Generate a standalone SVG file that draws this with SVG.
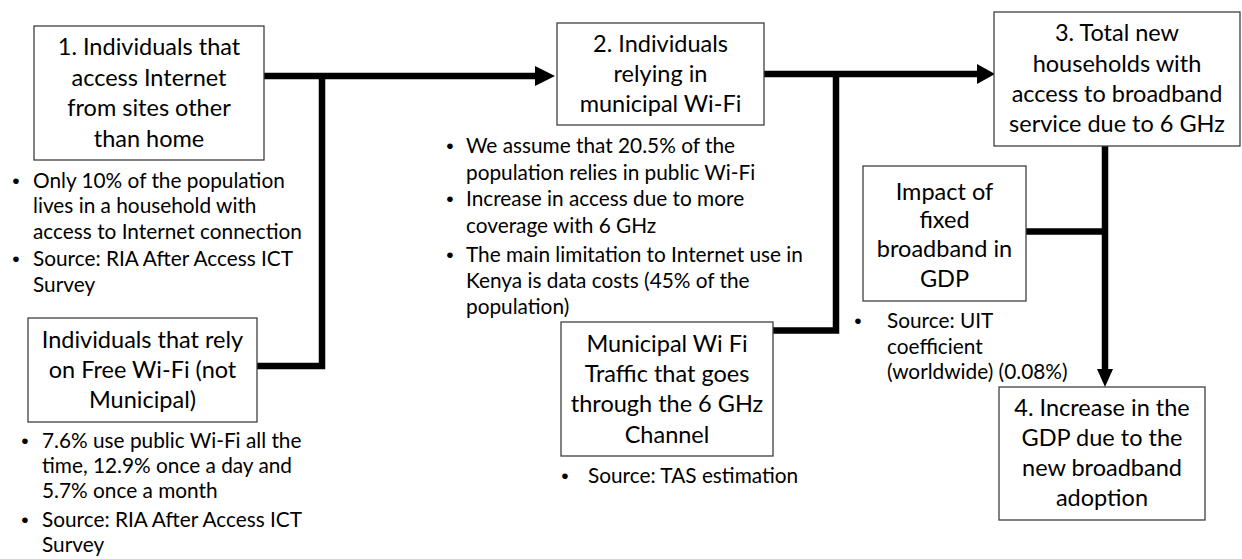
<svg xmlns="http://www.w3.org/2000/svg" width="1242" height="559" viewBox="0 0 1242 559">
<style>
  .box { fill: #ffffff; stroke: #404040; stroke-width: 1.3; }
  .bt { font-family: Lato, "Open Sans", sans-serif; font-size: 23.5px; fill: #000; text-anchor: middle; }
  .nt { font-family: Lato, "Open Sans", sans-serif; font-size: 20.8px; fill: #000; }
  .bu { font-family: "Liberation Sans", Arial, sans-serif; font-size: 21px; fill: #000; text-anchor: middle; }
  .conn { fill: none; stroke: #000; stroke-width: 6.5; stroke-linejoin: miter; stroke-linecap: butt; }
  .head { fill: #000; stroke: none; }
</style>
<rect width="1242" height="559" fill="#ffffff"/>

<g id="connectors">
  <path class="conn" d="M264,76 H536"/>
  <polygon class="head" points="535,66 555,76 535,86"/>
  <path class="conn" d="M322,76 V366 H257"/>
  <path class="conn" d="M764,74 H978"/>
  <polygon class="head" points="977,64 995,74 977,84"/>
  <path class="conn" d="M836,74 V330.5 H773"/>
  <path class="conn" d="M1105,146 V370"/>
  <polygon class="head" points="1097,369 1113,369 1105,387"/>
  <path class="conn" d="M1026,231.5 H1105"/>
</g>

<g id="node1">
  <rect class="box" x="34" y="26" width="230" height="134"/>
  <text class="bt" x="149" y="55">1. Individuals that</text>
  <text class="bt" x="149" y="86">access Internet</text>
  <text class="bt" x="149" y="116">from sites other</text>
  <text class="bt" x="149" y="147">than home</text>
</g>
<g id="note1">
  <text class="bu" x="16" y="188">•</text>
  <text class="nt" x="33" y="188">Only 10% of the population</text>
  <text class="nt" x="33" y="213">lives in a household with</text>
  <text class="nt" x="33" y="239">access to Internet connection</text>
  <text class="bu" x="16" y="266">•</text>
  <text class="nt" x="33" y="266">Source: RIA After Access ICT</text>
  <text class="nt" x="33" y="292">Survey</text>
</g>

<g id="node-free-wifi">
  <rect class="box" x="28" y="318" width="229" height="104"/>
  <text class="bt" x="142.5" y="348">Individuals that rely</text>
  <text class="bt" x="142.5" y="378">on Free Wi-Fi (not</text>
  <text class="bt" x="142.5" y="408">Municipal)</text>
</g>
<g id="note-free-wifi">
  <text class="bu" x="25" y="448">•</text>
  <text class="nt" x="42" y="448">7.6% use public Wi-Fi all the</text>
  <text class="nt" x="42" y="473">time, 12.9% once a day and</text>
  <text class="nt" x="42" y="498">5.7% once a month</text>
  <text class="bu" x="25" y="527">•</text>
  <text class="nt" x="42" y="527">Source: RIA After Access ICT</text>
  <text class="nt" x="42" y="552">Survey</text>
</g>

<g id="node2">
  <rect class="box" x="557" y="23" width="207" height="102"/>
  <text class="bt" x="660.5" y="52">2. Individuals</text>
  <text class="bt" x="660.5" y="82">relying in</text>
  <text class="bt" x="660.5" y="112">municipal Wi-Fi</text>
</g>
<g id="note2">
  <text class="bu" x="450" y="153">•</text>
  <text class="nt" x="466" y="153">We assume that 20.5% of the</text>
  <text class="nt" x="466" y="180">population relies in public Wi-Fi</text>
  <text class="bu" x="450" y="206">•</text>
  <text class="nt" x="466" y="206">Increase in access due to more</text>
  <text class="nt" x="466" y="233">coverage with 6 GHz</text>
  <text class="bu" x="450" y="262">•</text>
  <text class="nt" x="466" y="262">The main limitation to Internet use in</text>
  <text class="nt" x="466" y="288">Kenya is data costs (45% of the</text>
  <text class="nt" x="466" y="314">population)</text>
</g>

<g id="node-municipal">
  <rect class="box" x="561" y="322" width="212" height="134"/>
  <text class="bt" x="667" y="352">Municipal Wi Fi</text>
  <text class="bt" x="667" y="382">Traffic that goes</text>
  <text class="bt" x="667" y="412">through the 6 GHz</text>
  <text class="bt" x="667" y="443">Channel</text>
</g>
<g id="note-municipal">
  <text class="bu" x="565" y="483">•</text>
  <text class="nt" x="588" y="483">Source: TAS estimation</text>
</g>

<g id="node3">
  <rect class="box" x="994" y="12" width="246" height="134"/>
  <text class="bt" x="1117" y="41">3. Total new</text>
  <text class="bt" x="1117" y="72">households with</text>
  <text class="bt" x="1117" y="102">access to broadband</text>
  <text class="bt" x="1117" y="132">service due to 6 GHz</text>
</g>

<g id="node-impact">
  <rect class="box" x="863" y="166" width="163" height="135"/>
  <text class="bt" x="944.5" y="200">Impact of</text>
  <text class="bt" x="944.5" y="228">fixed</text>
  <text class="bt" x="944.5" y="257">broadband in</text>
  <text class="bt" x="944.5" y="287">GDP</text>
</g>
<g id="note-impact">
  <text class="bu" x="858" y="328">•</text>
  <text class="nt" x="887" y="328">Source: UIT</text>
  <text class="nt" x="887" y="354">coefficient</text>
  <text class="nt" x="887" y="379">(worldwide) (0.08%)</text>
</g>

<g id="node4">
  <rect class="box" x="999" y="387" width="206" height="133"/>
  <text class="bt" x="1102" y="416">4. Increase in the</text>
  <text class="bt" x="1102" y="446">GDP due to the</text>
  <text class="bt" x="1102" y="476">new broadband</text>
  <text class="bt" x="1102" y="506">adoption</text>
</g>
</svg>
